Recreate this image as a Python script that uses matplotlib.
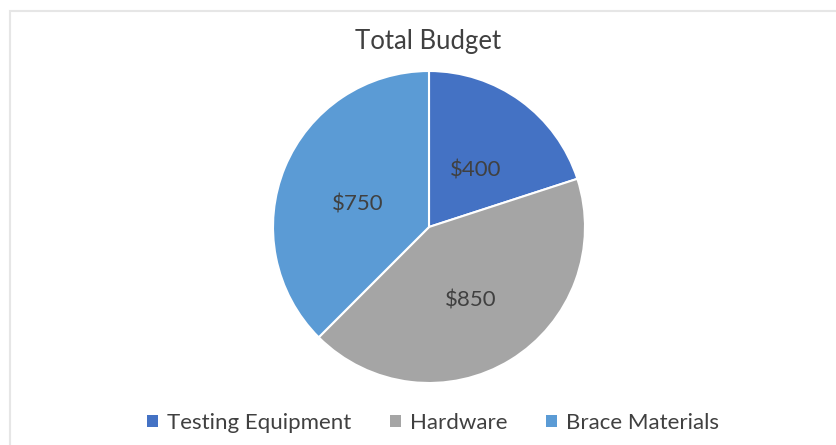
import matplotlib
matplotlib.use("Agg")
import matplotlib.pyplot as plt
from matplotlib.patches import Rectangle
from matplotlib.transforms import offset_copy

categories = ["Testing Equipment", "Hardware", "Brace Materials"]
values = [400, 850, 750]
labels = ["$400", "$850", "$750"]
colors = ["#4472C4", "#A5A5A5", "#5B9BD5"]

plt.rcParams['font.family'] = ['Lato', 'DejaVu Sans']

fig = plt.figure(figsize=(8.37, 4.45), dpi=100)
fig.patch.set_facecolor("white")
fig.patches.append(Rectangle((10/837, -0.1), 1.2, (445-11)/445 + 0.1, transform=fig.transFigure,
                             fill=False, edgecolor="#E6E6E6", linewidth=1.5))

W, H = 837, 445
cx, cy, r = 429, 227, 156
ax = fig.add_axes([(cx - r)/W, (H - (cy + r))/H, 2*r/W, 2*r/H])
wedges, texts = ax.pie(values, colors=colors, startangle=90, counterclock=False,
                       labels=labels, labeldistance=0.5,
                       wedgeprops=dict(edgecolor="white", linewidth=1.5),
                       textprops=dict(color="#404040", fontsize=16))
for w, t in zip(wedges, texts):
    w.set_label(None)
    t.set_ha("center")
    t.set_va("center")
    t.set_transform(offset_copy(ax.transData, fig=fig, x=1, y=-7, units="dots"))
ax.set_xlim(-1, 1)
ax.set_ylim(-1, 1)
ax.set_aspect("equal")
ax.axis("off")

fig.text(428/W, 1 - 41/H, "Total Budget", ha="center", va="center", fontsize=18.5, color="#404040")

handles = [Rectangle((0, 0), 1, 1, facecolor=c, edgecolor="none") for c in colors]
fig.legend(handles, categories, loc="center", bbox_to_anchor=(433/W, 1 - 423/H), ncol=3,
           frameon=False, fontsize=16, handlelength=0.5, handleheight=0.5,
           handletextpad=0.4, columnspacing=1.75, labelcolor="#404040")

fig.savefig("out.png", dpi=100)
